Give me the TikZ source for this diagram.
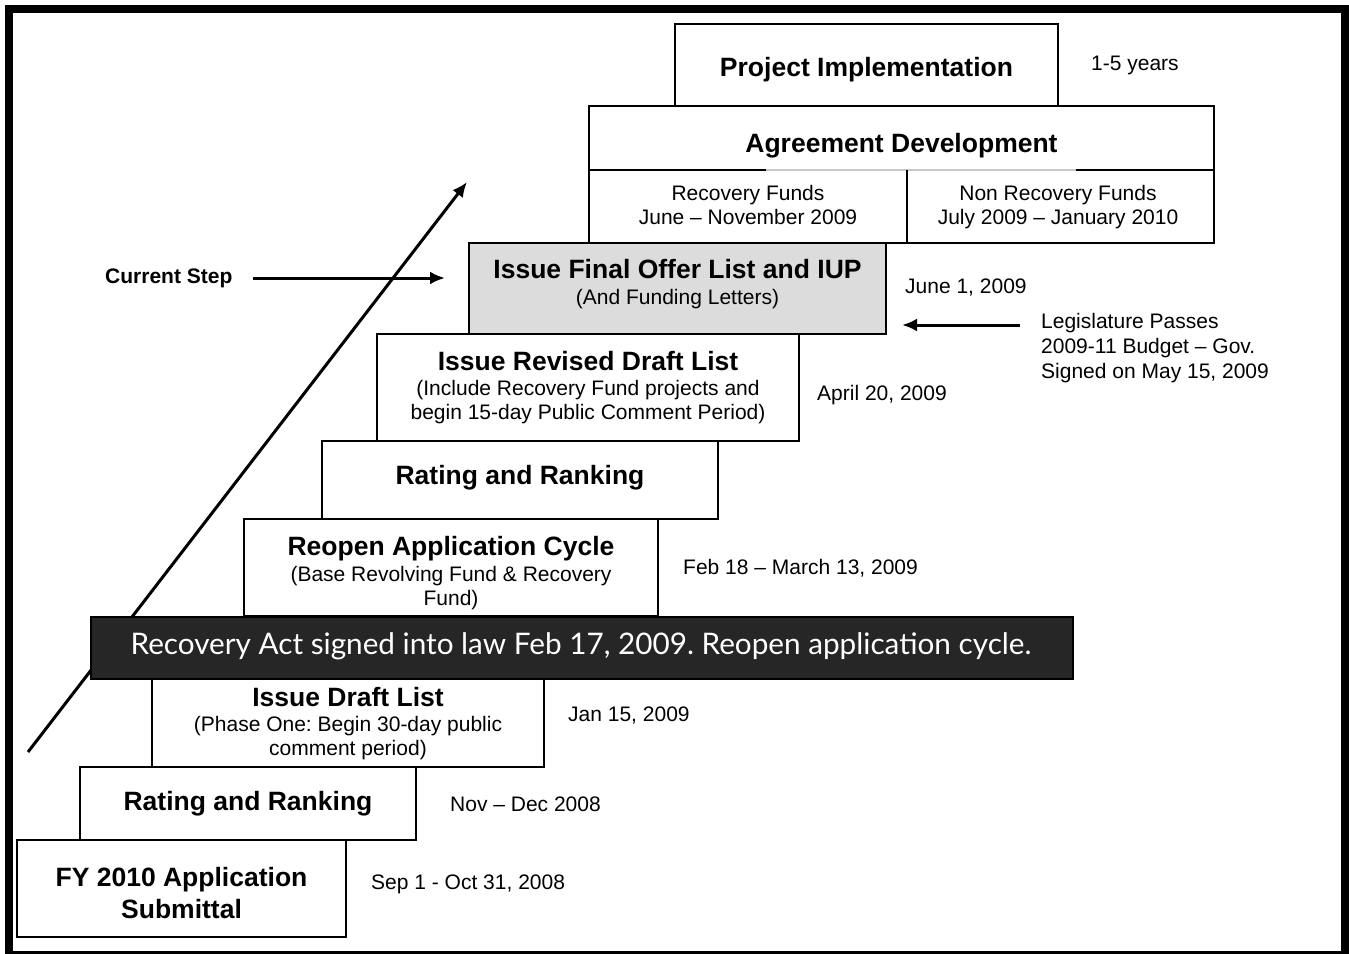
\documentclass[tikz,border=0pt]{standalone}
\usepackage{fontspec}
\setmainfont{Liberation Sans}
\newfontfamily\bannerfont{Lato}
\usetikzlibrary{arrows.meta}
\definecolor{bannerfill}{RGB}{38,38,38}
\definecolor{currentfill}{RGB}{220,220,220}
\definecolor{faintline}{RGB}{200,200,200}
\frenchspacing
\begin{document}
\begin{tikzpicture}[x=1pt,y=-1pt,
  stepbox/.style={draw, line width=2pt, fill=white, anchor=north west, inner sep=0pt, outer sep=0pt},
  head/.style={anchor=base, font=\fontsize{26.5}{30}\selectfont\bfseries, inner sep=0pt},
  sub/.style={anchor=base, font=\fontsize{21}{25}\selectfont, inner sep=0pt},
  datelbl/.style={anchor=base west, font=\fontsize{21}{25}\selectfont, inner sep=0pt},
  arr/.style={line width=3pt, -{Latex[length=15pt,width=13pt]}}]
\useasboundingbox (0,0) rectangle (1349,953);
\fill[white] (0,0) rectangle (1349,953);
\draw[line width=8pt] (9,9) rectangle (1345,955);

% boxes
\node[stepbox, minimum width=329pt, minimum height=97pt] (fy) at (17,840) {};
\node[stepbox, minimum width=336pt, minimum height=73pt] (rr1) at (80,767) {};
\node[stepbox, minimum width=392pt, minimum height=89pt] (draft) at (152,678) {};
\node[stepbox, minimum width=414pt, minimum height=97pt] (reopen) at (244,519) {};
\node[stepbox, minimum width=396pt, minimum height=78pt] (rr2) at (322,441) {};
\node[stepbox, minimum width=422pt, minimum height=107pt] (revised) at (377,334) {};
\node[stepbox, fill=currentfill, minimum width=417pt, minimum height=91pt] (final) at (469,243) {};
\node[stepbox, minimum width=625pt, minimum height=137pt] (agree) at (589,106) {};
\node[stepbox, minimum width=383pt, minimum height=82pt] (impl) at (675,24) {};
\draw[line width=2pt] (589,170) -- (1214,170);
\draw[line width=2pt, faintline] (766,170) -- (1076,170);
\draw[line width=2pt] (907,170) -- (907,243);

% texts in boxes
\node[head] (t-fy1) at (181.5,886) {FY 2010 Application};
\node[head] (t-fy2) at (181.5,918) {Submittal};
\node[head] (t-rr1) at (248,810) {Rating and Ranking};
\node[head] (t-dr1) at (348,706) {Issue Draft List};
\node[sub] (t-dr2) at (348,731) {(Phase One: Begin 30-day public};
\node[sub] (t-dr3) at (348,755) {comment period)};
\node[head] (t-ro1) at (451,555) {Reopen Application Cycle};
\node[sub] (t-ro2) at (451,581) {(Base Revolving Fund \& Recovery};
\node[sub] (t-ro3) at (451,605) {Fund)};
\node[head] (t-rr2) at (520,484) {Rating and Ranking};
\node[head] (t-rv1) at (588,370) {Issue Revised Draft List};
\node[sub] (t-rv2) at (588,395) {(Include Recovery Fund projects and};
\node[sub] (t-rv3) at (588,419) {begin 15-day Public Comment Period)};
\node[head] (t-fi1) at (677.5,278) {Issue Final Offer List and IUP};
\node[sub] (t-fi2) at (677.5,304) {(And Funding Letters)};
\node[sub] (t-rf1) at (748,200) {Recovery Funds};
\node[sub] (t-rf2) at (748,224) {June – November 2009};
\node[sub] (t-nr1) at (1058,200) {Non Recovery Funds};
\node[sub] (t-nr2) at (1058,224) {July 2009 – January 2010};
\node[head] (t-ag) at (901.5,152) {Agreement Development};
\node[head] (t-pi) at (866.5,76) {Project Implementation};

% dates
\node[datelbl] (d-pi) at (1091,70) {1-5 years};
\node[datelbl] (d-fi) at (905,293) {June 1, 2009};
\node[datelbl] (d-rv) at (817,400) {April 20, 2009};
\node[datelbl] (d-ro) at (683,574) {Feb 18 – March 13, 2009};
\node[datelbl] (d-dr) at (568,721) {Jan 15, 2009};
\node[datelbl] (d-rr) at (450,811) {Nov – Dec 2008};
\node[datelbl] (d-fy) at (371,889) {Sep 1 - Oct 31, 2008};
\node[datelbl, align=left, anchor=north west] (leg) at (1041,313) {Legislature Passes\\2009-11 Budget – Gov.\\Signed on May 15, 2009};
\node[anchor=base west, font=\fontsize{21}{25}\selectfont\bfseries, inner sep=0pt] (cur) at (105,283) {Current Step};

% arrows
\coordinate (diagS) at (28,752);
\coordinate (diagE) at (467,182);
\draw[arr] (diagS) -- (diagE);
\coordinate (curS) at (253,278);
\coordinate (curE) at (445,278);
\draw[arr] (curS) -- (curE);
\coordinate (legS) at (1020,325);
\coordinate (legE) at (902,325);
\draw[arr] (legS) -- (legE);

% banner
\node[draw=black, line width=1.5pt, fill=bannerfill, anchor=north west, minimum width=982pt, minimum height=62pt, inner sep=0pt] (banner) at (90,616) {};
\node[anchor=base, inner sep=0pt, text=white, font=\bannerfont\fontsize{29.7}{34}\selectfont] (t-ban) at (581,654) {Recovery Act signed into law Feb 17, 2009. Reopen application cycle.};
\end{tikzpicture}
\end{document}
